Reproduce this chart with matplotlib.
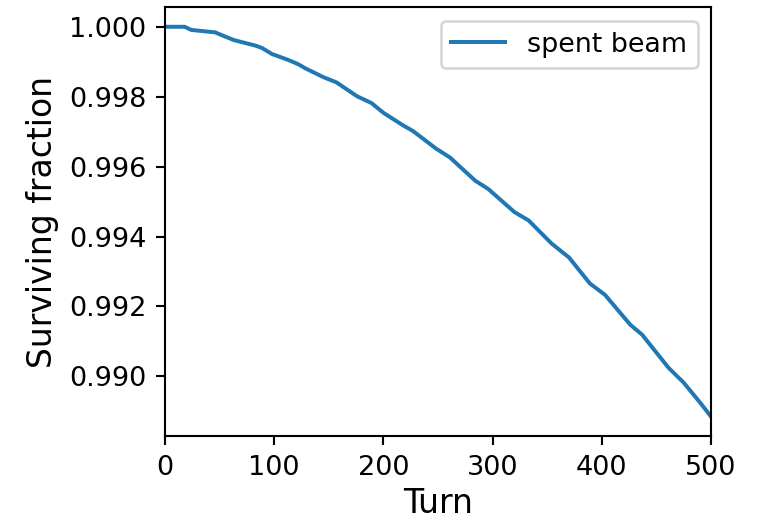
import matplotlib
matplotlib.use("Agg")
import matplotlib.pyplot as plt
import numpy as np

# turn number and surviving fraction
turns = [0, 18, 24, 46, 52, 63, 83, 89, 98, 113, 122, 128, 145, 157, 176, 189,
         200, 218, 227, 248, 261, 284, 296, 320, 333, 354, 370, 389, 403, 426,
         437, 461, 475, 490, 500]
surv = [1.00000, 1.00000, 0.99991, 0.99984, 0.99976, 0.99962, 0.99946, 0.99939,
        0.99922, 0.99905, 0.99893, 0.99882, 0.99856, 0.99841, 0.99801, 0.99782,
        0.99754, 0.99718, 0.99702, 0.99652, 0.99626, 0.99560, 0.99536, 0.99470,
        0.99446, 0.99380, 0.99340, 0.99266, 0.99233, 0.99148, 0.99119, 0.99025,
        0.98982, 0.98925, 0.98885]

fig = plt.figure(figsize=(758/190, 521/190), dpi=190)
ax = fig.add_subplot(111)
fig.subplots_adjust(left=0.2177, right=0.938, top=0.986, bottom=0.163)

ax.plot(np.array(turns), np.array(surv), label="spent beam")
ax.set_xlim(0, 500)
ax.set_xlabel("Turn", fontsize=12.5, labelpad=2.5)
ax.set_ylabel("Surviving fraction", fontsize=12.5)
ax.tick_params(labelsize=10.3)
ax.legend(loc="upper right", fontsize=10.2)

fig.savefig("out.png", dpi=190)
